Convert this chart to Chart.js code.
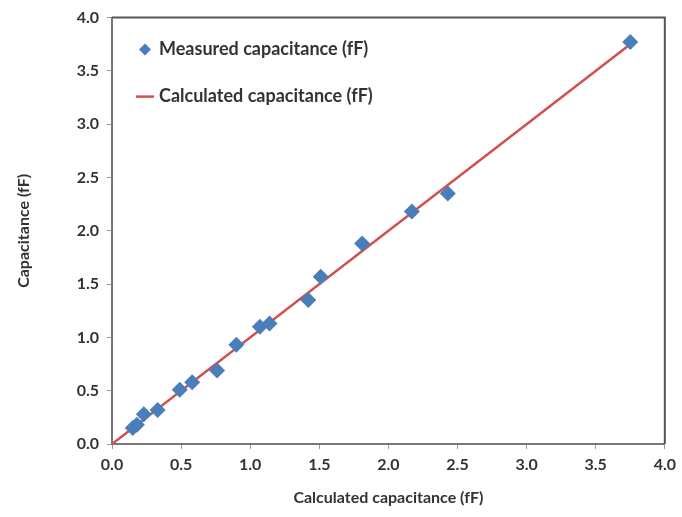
<!DOCTYPE html>
<html>

<head>
    <title>Capacitance Chart</title>
    <meta charset="UTF-8">
    <script src="https://cdn.jsdelivr.net/npm/chart.js"></script>
    <style>
        body { margin: 0; background: #fff; }
        #chartContainer { width: 682px; height: 517px; }
    </style>
</head>

<body>
    <div id="chartContainer">
        <canvas id="capChart"></canvas>
    </div>

    <script>
        // values
        var measuredX = [0.15, 0.18, 0.23, 0.33, 0.49, 0.58, 0.76, 0.90, 1.07, 1.14, 1.42, 1.51, 1.81, 2.17, 2.43, 3.75];
        var measuredY = [0.15, 0.18, 0.28, 0.32, 0.51, 0.58, 0.69, 0.93, 1.10, 1.13, 1.35, 1.57, 1.88, 2.18, 2.35, 3.77];
        var calcX = [0, 3.75];
        var calcY = [0, 3.75];
        var seriesNames = ['Measured capacitance (fF)', 'Calculated capacitance (fF)'];
        var xTitle = 'Calculated capacitance (fF)';
        var yTitle = 'Capacitance (fF)';

        var blue = '#4a7ebb';
        var red = '#d0504d';
        var textColor = '#333333';
        var fontFamily = 'Lato, "Open Sans", sans-serif';

        function toPoints(xs, ys) {
            return xs.map(function (x, i) { return { x: x, y: ys[i] }; });
        }

        // frame around the plot area, like the Excel chart
        var framePlugin = {
            id: 'frame',
            afterDraw: function (chart) {
                var a = chart.chartArea;
                var ctx = chart.ctx;
                ctx.save();
                ctx.strokeStyle = '#555';
                ctx.lineWidth = 2;
                ctx.beginPath();
                ctx.moveTo(a.left, a.top);
                ctx.lineTo(a.right, a.top);
                ctx.lineTo(a.right, a.bottom);
                ctx.stroke();
                ctx.restore();
            }
        };

        // legend drawn inside the plot area, top left
        var legendPlugin = {
            id: 'innerLegend',
            afterDraw: function (chart) {
                var ctx = chart.ctx;
                var a = chart.chartArea;
                ctx.save();
                ctx.font = 'bold 18px ' + fontFamily;
                ctx.textBaseline = 'middle';
                // diamond
                var x0 = a.left + 33, y0 = a.top + 32;
                ctx.fillStyle = blue;
                ctx.beginPath();
                ctx.moveTo(x0, y0 - 6);
                ctx.lineTo(x0 + 6, y0);
                ctx.lineTo(x0, y0 + 6);
                ctx.lineTo(x0 - 6, y0);
                ctx.closePath();
                ctx.fill();
                ctx.fillStyle = textColor;
                ctx.fillText(seriesNames[0], x0 + 14, y0);
                // line
                var y1 = y0 + 47;
                ctx.strokeStyle = red;
                ctx.lineWidth = 2.5;
                ctx.beginPath();
                ctx.moveTo(x0 - 9, y1);
                ctx.lineTo(x0 + 9, y1);
                ctx.stroke();
                ctx.fillText(seriesNames[1], x0 + 14, y1);
                ctx.restore();
            }
        };

        var ctx = document.getElementById('capChart').getContext('2d');
        var chart = new Chart(ctx, {
            type: 'scatter',
            data: {
                datasets: [{
                    label: seriesNames[1],
                    data: toPoints(calcX, calcY),
                    showLine: true,
                    borderColor: red,
                    borderWidth: 2.5,
                    pointRadius: 0,
                    order: 2
                }, {
                    label: seriesNames[0],
                    data: toPoints(measuredX, measuredY),
                    pointStyle: 'rectRot',
                    pointRadius: 8,
                    backgroundColor: blue,
                    borderColor: blue,
                    borderWidth: 0,
                    order: 1
                }]
            },
            options: {
                responsive: true,
                maintainAspectRatio: false,
                animation: false,
                layout: { padding: { top: 14, right: 15, left: 0, bottom: 0 } },
                plugins: {
                    legend: { display: false },
                    tooltip: { enabled: false }
                },
                scales: {
                    x: {
                        type: 'linear',
                        min: 0,
                        max: 4,
                        ticks: {
                            stepSize: 0.5,
                            padding: 6,
                            color: textColor,
                            font: { family: fontFamily, size: 16, weight: 'bold' },
                            callback: function (v) { return v.toFixed(1); }
                        },
                        grid: { drawOnChartArea: false, tickLength: 5, color: '#999' },
                        border: { color: '#777', width: 2 },
                        title: {
                            display: true,
                            text: xTitle,
                            color: textColor,
                            font: { family: fontFamily, size: 16, weight: 'bold' },
                            padding: { top: 4, bottom: 10 }
                        },
                        afterFit: function (scale) { scale.height = 73; }
                    },
                    y: {
                        type: 'linear',
                        min: 0,
                        max: 4,
                        ticks: {
                            stepSize: 0.5,
                            padding: 8,
                            color: textColor,
                            font: { family: fontFamily, size: 16, weight: 'bold' },
                            callback: function (v) { return v.toFixed(1); }
                        },
                        grid: { drawOnChartArea: false, tickLength: 5, color: '#999' },
                        border: { color: '#777', width: 2 },
                        title: {
                            display: true,
                            text: yTitle,
                            color: textColor,
                            font: { family: fontFamily, size: 16, weight: 'bold' },
                            padding: { top: 14, bottom: 10 }
                        },
                        afterFit: function (scale) { scale.width = 112; }
                    }
                }
            },
            plugins: [framePlugin, legendPlugin]
        });
    </script>
</body>

</html>
